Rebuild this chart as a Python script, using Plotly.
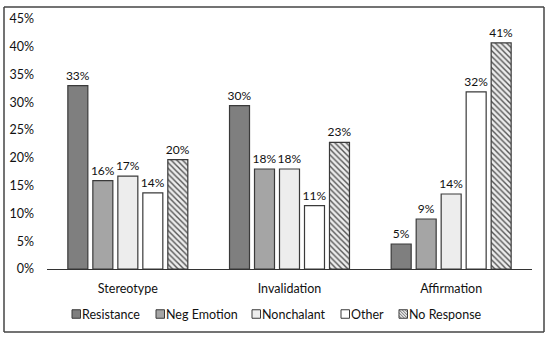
import plotly.graph_objects as go

categories = ["Stereotype", "Invalidation", "Affirmation"]
series_names = ["Resistance", "Neg Emotion", "Nonchalant", "Other", "No Response"]
resistance = [0.33, 0.294, 0.045]
neg_emotion = [0.159, 0.18, 0.09]
nonchalant = [0.167, 0.18, 0.135]
other = [0.137, 0.114, 0.319]
no_response = [0.197, 0.228, 0.407]
series_values = [resistance, neg_emotion, nonchalant, other, no_response]
labels = [
    ["33%", "30%", "5%"],
    ["16%", "18%", "9%"],
    ["17%", "18%", "14%"],
    ["14%", "11%", "32%"],
    ["20%", "23%", "41%"],
]
tick_vals = [0, 0.05, 0.10, 0.15, 0.20, 0.25, 0.30, 0.35, 0.40, 0.45]
tick_text = ["0%", "5%", "10%", "15%", "20%", "25%", "30%", "35%", "40%", "45%"]

colors = ["#7f7f7f", "#a5a5a5", "#ededed", "#ffffff", "#e6e6e6"]
FONT = "Lato"
EDGE = "#3a3a3a"

# plot area geometry (px) used to place the hand-drawn legend
L, R, T, B = 47, 18, 19, 69
W, H = 550, 338
PW, PH = W - L - R, H - T - B


def px_x(px):
    return (px - L) / PW


def px_y(py):
    return (H - B - py) / PH


fig = go.Figure()
for i, (name, vals) in enumerate(zip(series_names, series_values)):
    marker = dict(color=colors[i], line=dict(color=EDGE, width=1.2))
    if name == "No Response":
        marker["pattern"] = dict(shape="\\", fgcolor="#555555", bgcolor="#ececec",
                                 size=4, solidity=0.35, fillmode="replace")
    fig.add_trace(go.Bar(
        x=categories, y=vals, name=name, marker=marker,
        text=labels[i], textposition="outside", cliponaxis=False,
        constraintext="none",
        textfont=dict(family=FONT, size=12, color="#111111"),
        showlegend=False, hoverinfo="skip",
    ))

# outer frame as four line shapes
fx0, fx1, fy0, fy1 = px_x(4), px_x(544), px_y(7), px_y(332)
frame = [(fx0, fy1, fx1, fy1), (fx0, fy0, fx1, fy0), (fx0, fy0, fx0, fy1), (fx1, fy0, fx1, fy1)]
shapes = [dict(type="line", xref="paper", yref="paper", x0=a, y0=b, x1=c, y1=d,
               line=dict(color="#444444", width=1.5), layer="above") for a, b, c, d in frame]

# manual legend (swatch left edge px for each entry)
legend_x = [72, 156, 252, 341, 399]
legend_cy = 314
annotations = []
S = 8.5
for i, name in enumerate(series_names):
    xa = px_x(legend_x[i])
    ya = px_y(legend_cy)
    shapes.append(dict(type="rect", xref="paper", yref="paper",
                       xsizemode="pixel", ysizemode="pixel", xanchor=xa, yanchor=ya,
                       x0=0, x1=S, y0=-S / 2, y1=S / 2,
                       fillcolor=colors[i], line=dict(color=EDGE, width=1)))
    if name == "No Response":
        segs = []
        for k in [-6, -3, 0, 3, 6]:
            u0, u1 = max(0, -k), min(S, S - k)
            if u1 <= u0:
                continue
            segs.append(f"M{u0},{S/2 - (u0 + k)} L{u1},{S/2 - (u1 + k)}")
        shapes.append(dict(type="path", xref="paper", yref="paper",
                           xsizemode="pixel", ysizemode="pixel", xanchor=xa, yanchor=ya,
                           path=" ".join(segs), line=dict(color="#555555", width=0.8)))
    annotations.append(dict(text=name, xref="paper", yref="paper",
                            x=px_x(legend_x[i] + S + 0.5), y=ya, xanchor="left", yanchor="middle",
                            showarrow=False, borderpad=0,
                            font=dict(family=FONT, size=12.5, color="#111111")))

fig.update_layout(
    width=W, height=H,
    margin=dict(l=L, r=R, t=T, b=B, autoexpand=False),
    paper_bgcolor="white", plot_bgcolor="white",
    barmode="group", bargap=0.227, bargroupgap=0.2,
    font=dict(family=FONT, size=12, color="#111111"),
    showlegend=False,
    xaxis=dict(showline=True, linecolor="#333333", linewidth=1.2, ticks="",
               tickfont=dict(family=FONT, size=12.5), showgrid=False,
               ticklabelstandoff=8, automargin=False),
    yaxis=dict(range=[0, 0.45], tickvals=tick_vals, ticktext=tick_text,
               showgrid=False, zeroline=False, showline=False,
               tickfont=dict(family=FONT, size=12.5), ticklabelstandoff=12,
               automargin=False),
    shapes=shapes,
    annotations=annotations,
)

fig.write_html("out.html", config={"displayModeBar": False},
               post_script="document.body.style.margin='0';document.documentElement.style.overflow='hidden';window.scrollTo(0,0);")
